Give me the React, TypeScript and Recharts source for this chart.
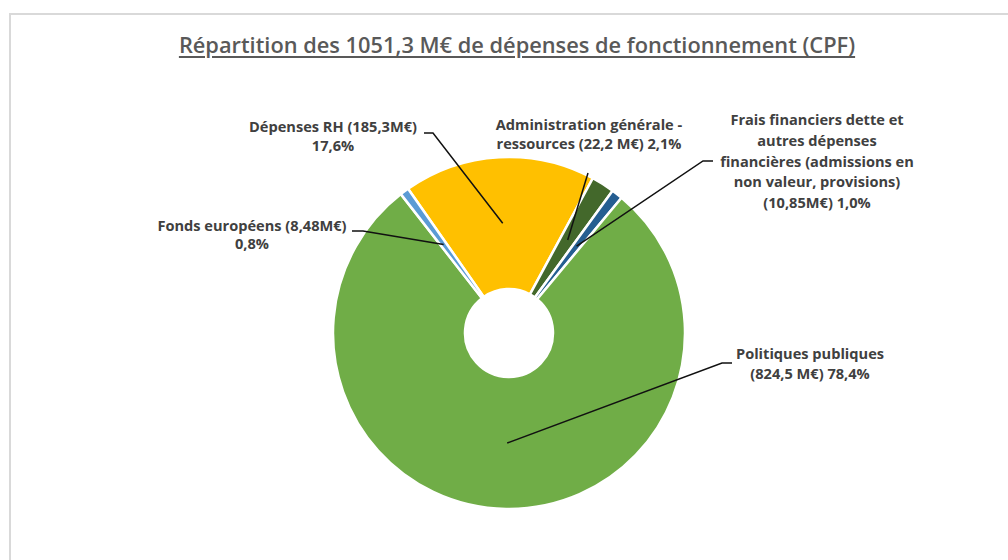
import React from "react";
import { PieChart, Pie, Cell } from "recharts";

const categories = [
  "Dépenses RH",
  "Administration générale - ressources",
  "Frais financiers dette et autres dépenses financières",
  "Politiques publiques",
  "Fonds européens",
];
const values = [185.3, 22.2, 10.85, 824.5, 8.48];
const labelTexts = [
  ["Dépenses RH (185,3M€)", "17,6%"],
  ["Administration générale -", "ressources (22,2 M€) 2,1%"],
  [
    "Frais financiers dette et",
    "autres dépenses",
    "financières (admissions en",
    "non valeur, provisions)",
    "(10,85M€) 1,0%",
  ],
  ["Politiques publiques", "(824,5 M€) 78,4%"],
  ["Fonds européens (8,48M€)", "0,8%"],
];
const colors = ["#FFC000", "#43682B", "#255E91", "#70AD47", "#5B9BD5"];

const data = categories.map((name, i) => ({ name, value: values[i] }));

// label placement (layout only)
const labelLayout = [
  { tx: 333, ty: 126, lh: 19, sx: 424, sy: 133, ex: 433, ey: 133 },
  { tx: 589, ty: 124, lh: 19, sx: 588, sy: 173, ex: 588, ey: 173 },
  { tx: 817, ty: 119, lh: 20.75, sx: 713, sy: 161, ex: 703, ey: 161 },
  { tx: 810, ty: 353, lh: 20, sx: 732, sy: 363, ex: 722, ey: 363 },
  { tx: 252, ty: 225, lh: 18, sx: 352, sy: 231, ex: 363, ey: 231 },
];

const RAD = Math.PI / 180;
const FONT = "'Open Sans', 'Noto Sans', sans-serif";

const renderLabel = (props: any) => {
  const { cx, cy, midAngle, innerRadius, outerRadius, index } = props;
  const L = labelLayout[index];
  const r = (innerRadius + outerRadius) / 2;
  const px = cx + r * Math.cos(-midAngle * RAD);
  const py = cy + r * Math.sin(-midAngle * RAD);
  return (
    <g key={`lbl-${index}`}>
      <path
        d={`M${L.sx},${L.sy} L${L.ex},${L.ey} L${px},${py}`}
        stroke="#111"
        strokeWidth={1.5}
        fill="none"
      />
      {labelTexts[index].map((t, i) => (
        <text
          key={i}
          x={L.tx}
          y={L.ty + i * L.lh}
          textAnchor="middle"
          dominantBaseline="central"
          fill="#404040"
          fontSize={14.6}
          fontWeight={700}
          fontFamily={FONT}
        >
          {t}
        </text>
      ))}
    </g>
  );
};

export default function App() {
  return (
    <div
      style={{
        position: "absolute",
        left: 0,
        top: 0,
        width: 1008,
        height: 560,
        overflow: "hidden",
        background: "#fff",
      }}
    >
      <div
        style={{
          position: "absolute",
          left: 9,
          top: 13,
          width: 1100,
          height: 700,
          border: "2px solid #D9D9D9",
          boxSizing: "border-box",
        }}
      />
      <div
        style={{
          position: "absolute",
          left: 0,
          top: 31,
          width: 1034,
          textAlign: "center",
          fontFamily: FONT,
          fontSize: 21.8,
          fontWeight: 600,
          color: "#595959",
          textDecoration: "underline",
          textUnderlineOffset: 3,
          lineHeight: "28px",
        }}
      >
        Répartition des 1051,3 M€ de dépenses de fonctionnement (CPF)
      </div>
      <div style={{ position: "absolute", left: 0, top: 0 }}>
        <PieChart
          width={1008}
          height={560}
          margin={{ top: 0, right: 0, bottom: 0, left: 0 }}
        >
          <Pie
            data={data}
            dataKey="value"
            nameKey="name"
            cx={509}
            cy={333}
            innerRadius={44}
            outerRadius={176}
            startAngle={125}
            endAngle={-235}
            stroke="#FFFFFF"
            strokeWidth={2.5}
            label={renderLabel}
            labelLine={false}
            isAnimationActive={false}
          >
            {data.map((d, i) => (
              <Cell key={d.name} fill={colors[i]} />
            ))}
          </Pie>
        </PieChart>
      </div>
    </div>
  );
}
